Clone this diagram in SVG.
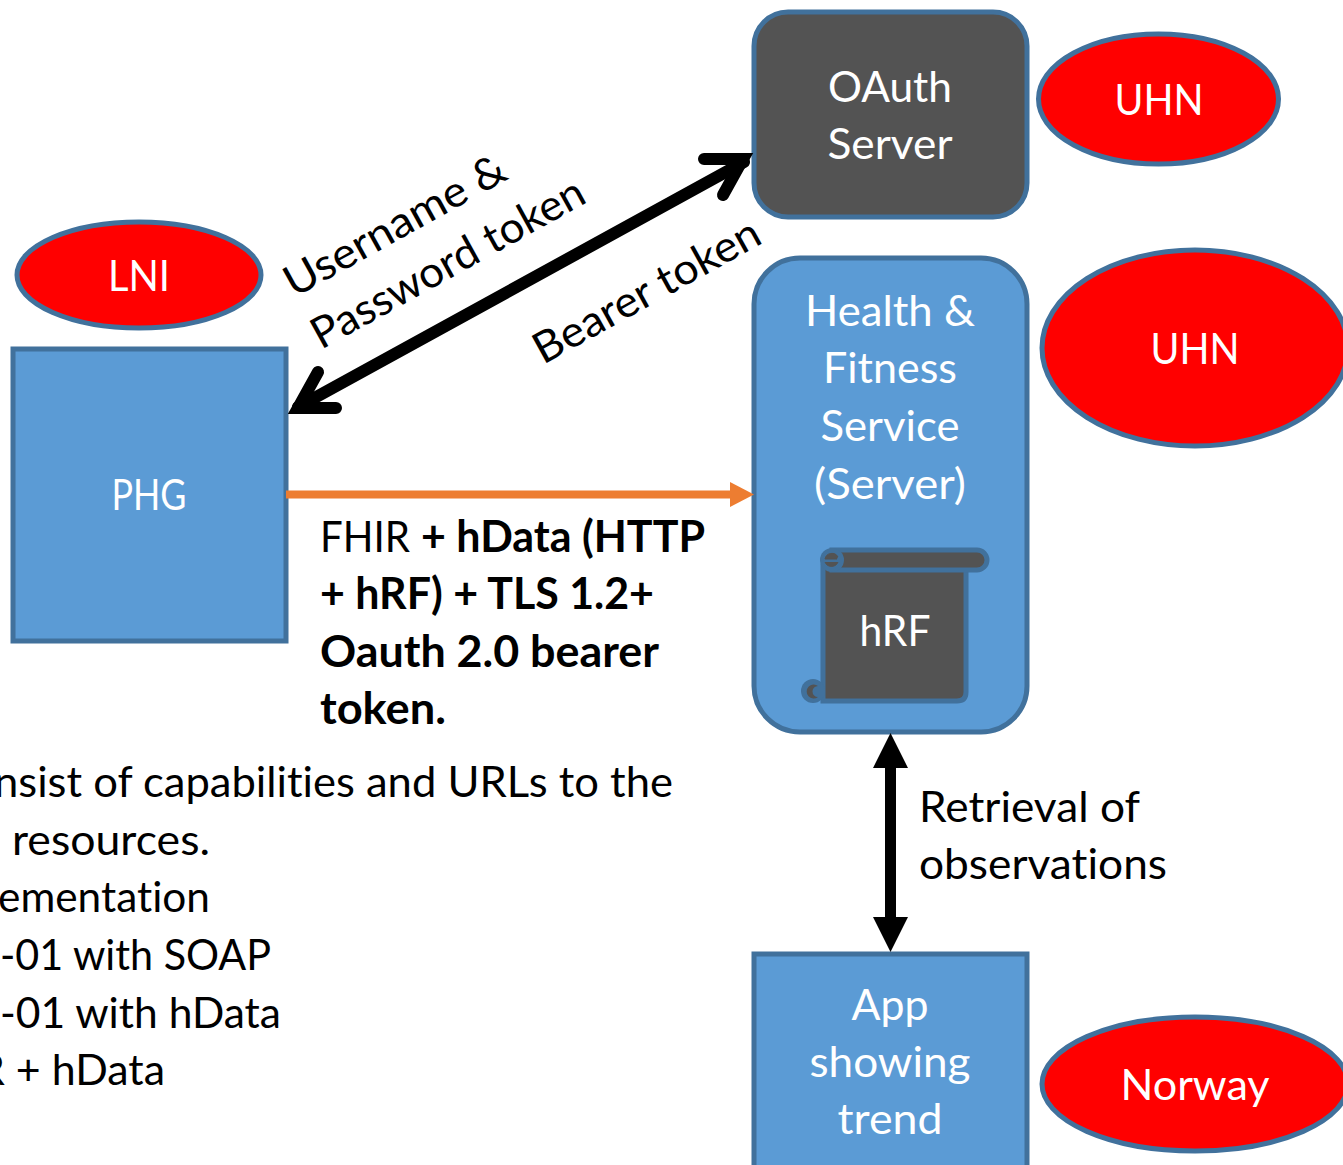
<svg xmlns="http://www.w3.org/2000/svg" width="1343" height="1165" viewBox="0 0 1343 1165">
<style>
text{font-family:Lato,"Open Sans","Liberation Sans",sans-serif;font-size:43px;font-variant-ligatures:none}
.w{fill:#fff;text-anchor:middle}
.k{fill:#000}
.b{font-weight:700}
.blue{fill:#5b9bd5;stroke:#41719c;stroke-width:5}
.red{fill:#ff0000;stroke:#41719c;stroke-width:5}
.dark{fill:#535353;stroke:#41719c;stroke-width:5}
.arr{fill:none;stroke:#000;stroke-width:12;stroke-linecap:round;stroke-linejoin:miter;stroke-miterlimit:6}
</style>
<rect width="1343" height="1165" fill="#fff"/>
<g id="oauth"><rect class="dark" x="754" y="12" width="273" height="205" rx="34"/><text class="w" x="890" y="102" textLength="124" lengthAdjust="spacingAndGlyphs">OAuth</text><text class="w" x="890" y="159" textLength="125" lengthAdjust="spacingAndGlyphs">Server</text></g>
<g id="uhn1"><ellipse class="red" cx="1158.500" cy="99" rx="120" ry="65"/><text class="w" x="1159" y="115" textLength="89" lengthAdjust="spacingAndGlyphs">UHN</text></g>
<g id="lni"><ellipse class="red" cx="139" cy="275" rx="122" ry="53"/><text class="w" x="139" y="291" textLength="62" lengthAdjust="spacingAndGlyphs">LNI</text></g>
<g id="phg"><rect class="blue" x="13" y="349" width="273" height="292"/><text class="w" x="149" y="510" textLength="75" lengthAdjust="spacingAndGlyphs">PHG</text></g>
<g id="hfs"><rect class="blue" x="754" y="258" width="273" height="474" rx="46"/>
<text class="w" x="890" y="326" textLength="170" lengthAdjust="spacingAndGlyphs">Health &amp;</text><text class="w" x="890" y="383" textLength="134" lengthAdjust="spacingAndGlyphs">Fitness</text><text class="w" x="890" y="441" textLength="139" lengthAdjust="spacingAndGlyphs">Service</text><text class="w" x="890" y="499" textLength="152" lengthAdjust="spacingAndGlyphs">(Server)</text></g>
<g id="hrf">
<path class="dark" d="M823 566H966V692Q966 701 957 701H823Z"/>
<path class="dark" d="M832 550H977a10 10 0 0 1 0 20H832Z"/>
<circle cx="832" cy="560" r="12" fill="#41719c"/>
<path d="M838 557a7 7 0 0 0-13 2h12M825 562a7 7 0 0 0 13 0" fill="#535353" stroke="#535353" stroke-width="1"/>
<circle cx="813" cy="691" r="12" fill="#41719c"/>
<path d="M818 686a7 7 0 1 0 0 11a5 5 0 0 1 0-11Z" fill="#535353"/>
<text class="w" x="895" y="646" textLength="71" lengthAdjust="spacingAndGlyphs">hRF</text></g>
<g id="uhn2"><ellipse class="red" cx="1195" cy="348" rx="153" ry="98"/><text class="w" x="1195" y="364" textLength="89" lengthAdjust="spacingAndGlyphs">UHN</text></g>
<g id="app"><rect class="blue" x="754" y="954" width="273" height="220"/>
<text class="w" x="890" y="1020" textLength="77" lengthAdjust="spacingAndGlyphs">App</text><text class="w" x="890" y="1077" textLength="161" lengthAdjust="spacingAndGlyphs">showing</text><text class="w" x="890" y="1134" textLength="105" lengthAdjust="spacingAndGlyphs">trend</text></g>
<g id="norway"><ellipse class="red" cx="1195" cy="1084" rx="153" ry="67"/><text class="w" x="1195" y="1100" textLength="149" lengthAdjust="spacingAndGlyphs">Norway</text></g>
<g id="connectors">
<path d="M298 407L744 162" class="arr"/>
<path d="M704 159L743 159L723 195" class="arr"/>
<path d="M336 408L298 408L318 372" class="arr"/>
<path d="M286 494.500H735" fill="none" stroke="#ed7d31" stroke-width="8"/>
<path d="M754 494.500L730 482V507Z" fill="#ed7d31"/>
<path d="M890.500 760V925" fill="none" stroke="#000" stroke-width="11"/>
<path d="M890.500 733L908 768H873Z M890.500 952L908 917H873Z" fill="#000"/>
</g>
<g id="labels">
<text class="k" transform="translate(294 298) rotate(-29)" textLength="247" lengthAdjust="spacingAndGlyphs">Username &amp;</text>
<text class="k" transform="translate(321 350) rotate(-29)" textLength="306" lengthAdjust="spacingAndGlyphs">Password token</text>
<text class="k" transform="translate(543 365) rotate(-29)" textLength="253" lengthAdjust="spacingAndGlyphs">Bearer token</text>
<text class="k" x="320" y="552" textLength="90" lengthAdjust="spacingAndGlyphs">FHIR</text>
<text class="k b" x="421" y="552" textLength="284" lengthAdjust="spacingAndGlyphs">+ hData (HTTP</text>
<text class="k b" x="320" y="609" textLength="334" lengthAdjust="spacingAndGlyphs">+ hRF) + TLS 1.2+</text>
<text class="k b" x="320" y="667" textLength="339" lengthAdjust="spacingAndGlyphs">Oauth 2.0 bearer</text>
<text class="k b" x="320" y="724" textLength="126" lengthAdjust="spacingAndGlyphs">token.</text>
<text class="k" x="919" y="822" textLength="221" lengthAdjust="spacingAndGlyphs">Retrieval of</text>
<text class="k" x="919" y="879" textLength="248" lengthAdjust="spacingAndGlyphs">observations</text>
<text class="k" x="-6" y="797" textLength="679" lengthAdjust="spacingAndGlyphs">nsist of capabilities and URLs to the</text>
<text class="k" x="12" y="855" textLength="198" lengthAdjust="spacingAndGlyphs">resources.</text>
<text class="k" x="-2" y="912" textLength="212" lengthAdjust="spacingAndGlyphs">ementation</text>
<text class="k" x="0" y="970" textLength="271" lengthAdjust="spacingAndGlyphs">-01 with SOAP</text>
<text class="k" x="0" y="1028" textLength="281" lengthAdjust="spacingAndGlyphs">-01 with hData</text>
<text class="k" x="-22" y="1085" textLength="187" lengthAdjust="spacingAndGlyphs">R + hData</text>
</g>
</svg>
